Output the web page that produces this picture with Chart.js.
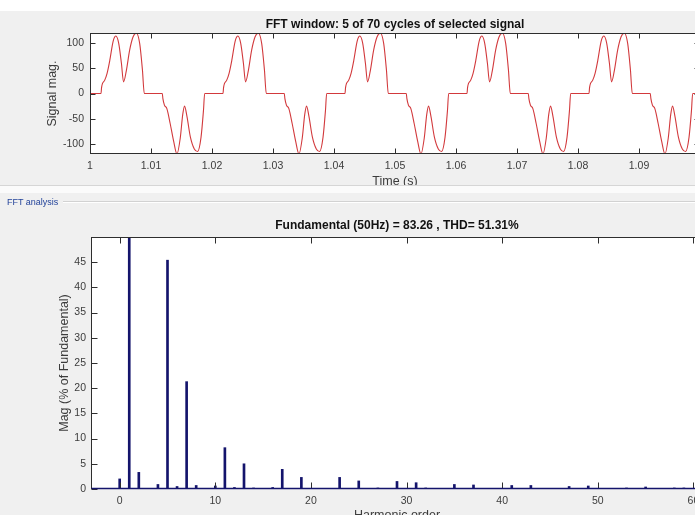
<!DOCTYPE html>
<html>
<head>
<meta charset="utf-8">
<script src="https://cdn.jsdelivr.net/npm/chart.js@4.4.1/dist/chart.umd.min.js"></script>
<style>
  html, body { margin: 0; padding: 0; width: 695px; height: 515px; overflow: hidden; background: #f0f0f0; }
  body { position: relative; font-family: "Liberation Sans", Arial, sans-serif; }
  #topStrip { position: absolute; left: 0; top: 0; width: 695px; height: 11px; background: #ffffff; }
  #signalWrap { position: absolute; left: 0; top: 0; width: 695px; height: 186px; overflow: hidden; }
  #sepLine { position: absolute; left: 0; top: 185px; width: 695px; height: 1px; background: #d6d6d6; }
  #sepGap { position: absolute; left: 0; top: 186px; width: 695px; height: 7px; background: #fbfbfb; }
  #fftWrap { position: absolute; left: 0; top: 193px; width: 695px; height: 322px; overflow: hidden; }
  #panelTitle { position: absolute; left: 7px; top: 3px; font-size: 9px; line-height: 12px; color: #23439a; z-index: 2; }
  #panelRule { position: absolute; left: 63px; top: 8px; width: 640px; height: 1px; background: #d2d2d2; border-bottom: 1px solid #ffffff; z-index: 2; }
  canvas { position: absolute; left: 0; top: 0; }
</style>
</head>
<body>
<div id="topStrip"></div>
<div id="signalWrap"><canvas id="signalChart" width="720" height="200"></canvas></div>
<div id="sepLine"></div>
<div id="sepGap"></div>
<div id="fftWrap">
  <div id="panelTitle">FFT analysis</div>
  <div id="panelRule"></div>
  <canvas id="fftChart" width="720" height="345"></canvas>
</div>
<script>
// ---- Signal window: time (s) and magnitude, one row per half cycle ----
const signalTime = [
  1.00000, 1.00180, 1.00190, 1.00205, 1.00240, 1.00280, 1.00325, 1.00380, 1.00425, 1.00470, 1.00515, 1.00550, 1.00595, 1.00650, 1.00705, 1.00760, 1.00815, 1.00860, 1.00890,
  1.01185, 1.01195, 1.01220, 1.01260, 1.01315, 1.01370, 1.01425, 1.01480, 1.01520, 1.01550, 1.01590, 1.01645, 1.01710, 1.01765, 1.01820, 1.01860, 1.01880,
  1.02000, 1.02180, 1.02190, 1.02205, 1.02240, 1.02280, 1.02325, 1.02380, 1.02425, 1.02470, 1.02515, 1.02550, 1.02595, 1.02650, 1.02705, 1.02760, 1.02815, 1.02860, 1.02890,
  1.03185, 1.03195, 1.03220, 1.03260, 1.03315, 1.03370, 1.03425, 1.03480, 1.03520, 1.03550, 1.03590, 1.03645, 1.03710, 1.03765, 1.03820, 1.03860, 1.03880,
  1.04000, 1.04180, 1.04190, 1.04205, 1.04240, 1.04280, 1.04325, 1.04380, 1.04425, 1.04470, 1.04515, 1.04550, 1.04595, 1.04650, 1.04705, 1.04760, 1.04815, 1.04860, 1.04890,
  1.05185, 1.05195, 1.05220, 1.05260, 1.05315, 1.05370, 1.05425, 1.05480, 1.05520, 1.05550, 1.05590, 1.05645, 1.05710, 1.05765, 1.05820, 1.05860, 1.05880,
  1.06000, 1.06180, 1.06190, 1.06205, 1.06240, 1.06280, 1.06325, 1.06380, 1.06425, 1.06470, 1.06515, 1.06550, 1.06595, 1.06650, 1.06705, 1.06760, 1.06815, 1.06860, 1.06890,
  1.07185, 1.07195, 1.07220, 1.07260, 1.07315, 1.07370, 1.07425, 1.07480, 1.07520, 1.07550, 1.07590, 1.07645, 1.07710, 1.07765, 1.07820, 1.07860, 1.07880,
  1.08000, 1.08180, 1.08190, 1.08205, 1.08240, 1.08280, 1.08325, 1.08380, 1.08425, 1.08470, 1.08515, 1.08550, 1.08595, 1.08650, 1.08705, 1.08760, 1.08815, 1.08860, 1.08890,
  1.09185, 1.09195, 1.09220, 1.09260, 1.09315, 1.09370, 1.09425, 1.09480, 1.09520, 1.09550, 1.09590, 1.09645, 1.09710, 1.09765, 1.09820, 1.09860, 1.09880,
  1.10000
];
const signalMag = [
  0, 0, 12, 20, 26, 40, 66, 104, 114, 100, 60, 23, 45, 86, 112, 119.5, 99, 46, 0,
  0, -10, -23, -30, -60, -94, -120, -88, -42, -25, -46, -86, -110, -115, -87, -34, 0,
  0, 0, 12, 20, 26, 40, 66, 104, 114, 100, 60, 23, 45, 86, 112, 119.5, 99, 46, 0,
  0, -10, -23, -30, -60, -94, -120, -88, -42, -25, -46, -86, -110, -115, -87, -34, 0,
  0, 0, 12, 20, 26, 40, 66, 104, 114, 100, 60, 23, 45, 86, 112, 119.5, 99, 46, 0,
  0, -10, -23, -30, -60, -94, -120, -88, -42, -25, -46, -86, -110, -115, -87, -34, 0,
  0, 0, 12, 20, 26, 40, 66, 104, 114, 100, 60, 23, 45, 86, 112, 119.5, 99, 46, 0,
  0, -10, -23, -30, -60, -94, -120, -88, -42, -25, -46, -86, -110, -115, -87, -34, 0,
  0, 0, 12, 20, 26, 40, 66, 104, 114, 100, 60, 23, 45, 86, 112, 119.5, 99, 46, 0,
  0, -10, -23, -30, -60, -94, -120, -88, -42, -25, -46, -86, -110, -115, -87, -34, 0,
  0
];
const timeTicks = [1, 1.01, 1.02, 1.03, 1.04, 1.05, 1.06, 1.07, 1.08, 1.09];
const timeTickLabels = ['1', '1.01', '1.02', '1.03', '1.04', '1.05', '1.06', '1.07', '1.08', '1.09'];
const signalTicks = [-100, -50, 0, 50, 100];
const signalTickLabels = ['-100', '-50', '0', '50', '100'];

// ---- Harmonic spectrum: order and magnitude (% of fundamental) ----
const harmonicOrder = [0, 1, 2, 4, 5, 6, 7, 8, 10, 11, 12, 13, 14, 16, 17, 19, 23, 25, 27, 29, 31, 32, 35, 37, 41, 43, 47, 49, 53, 55, 58, 59];
const harmonicMag   = [2.0, 100, 3.3, 0.9, 45.4, 0.5, 21.3, 0.7, 0.6, 8.2, 0.3, 5.0, 0.2, 0.3, 3.9, 2.3, 2.3, 1.6, 0.2, 1.5, 1.25, 0.2, 0.9, 0.8, 0.7, 0.7, 0.5, 0.6, 0.2, 0.4, 0.2, 0.2];
const orderTicks = [0, 10, 20, 30, 40, 50, 60];
const orderTickLabels = ['0', '10', '20', '30', '40', '50', '60'];
const magTicks = [0, 5, 10, 15, 20, 25, 30, 35, 40, 45];
const magTickLabels = ['0', '5', '10', '15', '20', '25', '30', '35', '40', '45'];

const FONT = '"Liberation Sans", Arial, Helvetica, sans-serif';
const AXIS_COLOR = '#2e2e2e';
const TEXT_COLOR = '#3c3c3c';

// White plot background, boxed axes and inward tick marks on all four sides
const axesBox = {
  id: 'axesBox',
  beforeDraw(chart) {
    const { ctx, chartArea: a } = chart;
    ctx.save();
    ctx.fillStyle = '#ffffff';
    ctx.fillRect(a.left, a.top, a.right - a.left, a.bottom - a.top);
    ctx.restore();
  },
  afterDatasetsDraw(chart, args, opts) {
    const { ctx, chartArea: a, scales } = chart;
    const x = scales.x, y = scales.y;
    const len = opts.tickLength || 5;
    const L = Math.round(a.left) + 0.5, R = Math.round(a.right) - 0.5;
    const T = Math.round(a.top) + 0.5, B = Math.round(a.bottom) - 0.5;
    ctx.save();
    ctx.strokeStyle = AXIS_COLOR;
    ctx.lineWidth = 1;
    ctx.beginPath();
    x.ticks.forEach(t => {
      const px = Math.round(x.getPixelForValue(t.value)) + 0.5;
      ctx.moveTo(px, B); ctx.lineTo(px, B - len);
      ctx.moveTo(px, T); ctx.lineTo(px, T + len);
    });
    y.ticks.forEach(t => {
      const py = Math.round(y.getPixelForValue(t.value)) + 0.5;
      ctx.moveTo(L, py); ctx.lineTo(L + len, py);
      ctx.moveTo(R, py); ctx.lineTo(R - len, py);
    });
    ctx.stroke();
    ctx.strokeRect(L, T, R - L, B - T);
    if (opts.baseline) {
      const py = Math.round(y.getPixelForValue(0)) - 0.5;
      ctx.strokeStyle = opts.baseline;
      ctx.lineWidth = 1.5;
      ctx.beginPath();
      ctx.moveTo(L, py); ctx.lineTo(R, py);
      ctx.stroke();
    }
    ctx.restore();
  }
};

function fixedTicks(values) {
  return scale => { scale.ticks = values.map(v => ({ value: v })); };
}

// ---- Signal plot ----
new Chart(document.getElementById('signalChart'), {
  type: 'line',
  data: {
    datasets: [{
      data: signalTime.map((t, i) => ({ x: t, y: signalMag[i] })),
      borderColor: '#d2393c',
      borderWidth: 1.1,
      pointRadius: 0,
      cubicInterpolationMode: 'monotone',
      fill: false
    }]
  },
  options: {
    responsive: false,
    animation: false,
    devicePixelRatio: 1,
    events: [],
    layout: { padding: { left: 0, right: 20, top: 0, bottom: 0 } },
    plugins: {
      legend: { display: false },
      tooltip: { enabled: false },
      title: {
        display: true,
        fullSize: false,
        text: 'FFT window: 5 of 70 cycles of selected signal',
        color: '#111111',
        font: { family: FONT, size: 12, weight: 'bold' },
        padding: { top: 17.6, bottom: 1.0 }
      },
      axesBox: { tickLength: 5 }
    },
    scales: {
      x: {
        type: 'linear', min: 1, max: 1.1,
        afterBuildTicks: fixedTicks(timeTicks),
        afterFit: s => { s.height = 46; },
        grid: { display: false, drawTicks: false },
        border: { display: false },
        ticks: { padding: 6, color: TEXT_COLOR, font: { family: FONT, size: 10.5 }, maxRotation: 0, autoSkip: false,
                 callback: (v, i) => timeTickLabels[i] },
        title: { display: true, text: 'Time (s)', color: TEXT_COLOR, font: { family: FONT, size: 12.5 }, padding: { top: 0, bottom: 10.5 } }
      },
      y: {
        type: 'linear', min: -120, max: 120,
        afterBuildTicks: fixedTicks(signalTicks),
        afterFit: s => { s.width = 90; },
        grid: { display: false, drawTicks: false },
        border: { display: false },
        ticks: { padding: 6, color: TEXT_COLOR, font: { family: FONT, size: 10.5 }, autoSkip: false,
                 callback: (v, i) => signalTickLabels[i] },
        title: { display: true, text: 'Signal mag.', color: TEXT_COLOR, font: { family: FONT, size: 12.5 }, padding: { top: 45.5, bottom: 0 } }
      }
    }
  },
  plugins: [axesBox]
});

// ---- Harmonic spectrum ----
new Chart(document.getElementById('fftChart'), {
  type: 'bar',
  data: {
    datasets: [{
      data: harmonicOrder.map((h, i) => ({ x: h, y: harmonicMag[i] })),
      backgroundColor: '#14146c',
      borderWidth: 0,
      barThickness: 2,
      clip: 0
    }]
  },
  options: {
    responsive: false,
    animation: false,
    devicePixelRatio: 1,
    events: [],
    layout: { padding: { left: 0, right: 17, top: 0, bottom: 0 } },
    plugins: {
      legend: { display: false },
      tooltip: { enabled: false },
      title: {
        display: true,
        fullSize: false,
        text: 'Fundamental (50Hz) = 83.26 , THD= 51.31%',
        color: '#111111',
        font: { family: FONT, size: 12, weight: 'bold' },
        padding: { top: 25.8, bottom: 3.8 }
      },
      axesBox: { tickLength: 6, baseline: '#14146c' }
    },
    scales: {
      x: {
        type: 'linear', min: -3, max: 61, offset: false,
        afterBuildTicks: fixedTicks(orderTicks),
        afterFit: s => { s.height = 49; },
        grid: { display: false, drawTicks: false },
        border: { display: false },
        ticks: { padding: 6, color: TEXT_COLOR, font: { family: FONT, size: 10.5 }, maxRotation: 0, autoSkip: false,
                 callback: (v, i) => orderTickLabels[i] },
        title: { display: true, text: 'Harmonic order', color: TEXT_COLOR, font: { family: FONT, size: 12.5 }, padding: { top: 0, bottom: 15 } }
      },
      y: {
        type: 'linear', min: 0, max: 50,
        afterBuildTicks: fixedTicks(magTicks),
        afterFit: s => { s.width = 91; },
        grid: { display: false, drawTicks: false },
        border: { display: false },
        ticks: { padding: 5, color: TEXT_COLOR, font: { family: FONT, size: 10.5 }, autoSkip: false,
                 callback: (v, i) => magTickLabels[i] },
        title: { display: true, text: 'Mag (% of Fundamental)', color: TEXT_COLOR, font: { family: FONT, size: 12.5 }, padding: { top: 57.5, bottom: 0 } }
      }
    }
  },
  plugins: [axesBox]
});
</script>
</body>
</html>
